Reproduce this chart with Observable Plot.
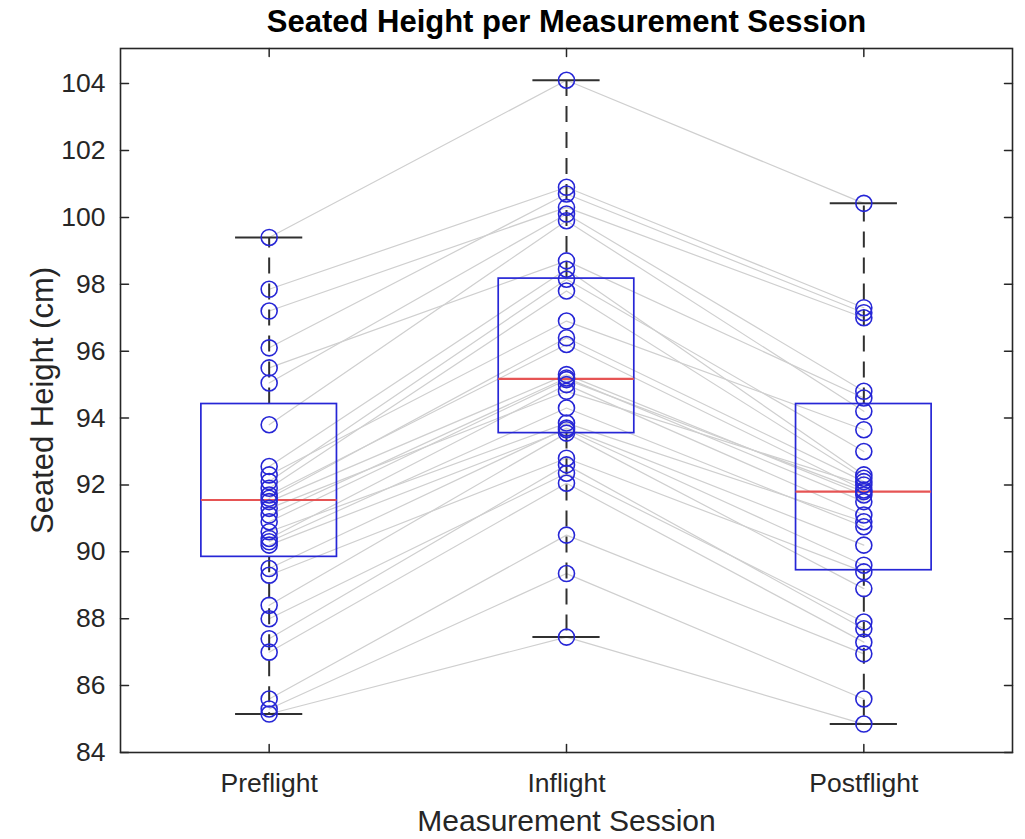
<!DOCTYPE html>
<html><head><meta charset="utf-8">
<script src="https://cdn.jsdelivr.net/npm/d3@7"></script>
<script src="https://cdn.jsdelivr.net/npm/@observablehq/plot@0.6"></script>
<style>body{margin:0;background:#fff;}</style>
</head><body><div id="chart"></div>
<script>
// ---- data ----
const sessions = ["Preflight", "Inflight", "Postflight"];
const preflight  = [99.4, 97.85, 97.2, 96.1, 95.5, 95.05, 93.8, 92.55, 92.3, 92.1, 91.9, 91.7, 91.6, 91.5, 91.3, 91.1, 90.9, 90.6, 90.4, 90.3, 90.2, 89.5, 89.3, 88.4, 88.0, 87.4, 87.0, 85.6, 85.3, 85.15];
const inflight   = [104.1, 100.9, 100.3, 100.7, 98.7, 100.1, 99.9, 98.45, 96.9, 98.15, 97.8, 96.2, 96.4, 95.3, 94.8, 95.2, 95.15, 93.85, 95.0, 94.3, 93.65, 93.7, 92.8, 93.55, 92.35, 92.6, 92.05, 90.5, 89.35, 87.45];
const postflight = [100.42, 97.3, 97.0, 97.15, 94.6, 94.8, 94.2, 92.3, 93.65, 93.0, 92.2, 91.85, 92.1, 91.7, 92.0, 91.5, 91.8, 90.9, 91.1, 90.75, 89.6, 90.2, 89.4, 88.9, 87.9, 87.7, 87.3, 86.95, 85.6, 84.85];
// box statistics per session
const boxQ1     = [89.85, 93.55, 89.45];
const boxMedian = [91.55, 95.17, 91.8];
const boxQ3     = [94.42, 98.17, 94.42];
const whiskerLo = [85.15, 87.45, 84.85];
const whiskerHi = [99.4, 104.1, 100.42];
const yTicks = [84, 86, 88, 90, 92, 94, 96, 98, 100, 102, 104];

// ---- build tables ----
const rows = [];
preflight.forEach((v, i) => {
  rows.push({subject: i, session: 1, value: v});
  rows.push({subject: i, session: 2, value: inflight[i]});
  rows.push({subject: i, session: 3, value: postflight[i]});
});
const boxes = sessions.map((s, i) => ({x: i + 1, q1: boxQ1[i], med: boxMedian[i], q3: boxQ3[i], lo: whiskerLo[i], hi: whiskerHi[i]}));

const BOX = 0.228, CAP = 0.113;
const tickShape = {draw(context, l) { context.moveTo(0, 0); context.lineTo(0, -l); }};
const axisColor = "#262626";
const blue = "#2626d6";

const chart = Plot.plot({
  width: 1025,
  height: 839,
  marginLeft: 120,
  marginRight: 13,
  marginTop: 48,
  marginBottom: 87,
  style: {fontFamily: "'Liberation Sans', Arial, Helvetica, sans-serif", fontSize: "26px", color: axisColor, background: "#fff"},
  x: {domain: [0.5, 3.5], axis: null},
  y: {domain: [84, 105.05], axis: null},
  marks: [
    Plot.line(rows, {x: "session", y: "value", z: "subject", stroke: "#cfcfcf", strokeWidth: 1.2}),
    Plot.ruleX(boxes, {x: "x", y1: "q3", y2: "hi", stroke: "#303030", strokeWidth: 2, strokeDasharray: "16,10"}),
    Plot.ruleX(boxes, {x: "x", y1: "q1", y2: "lo", stroke: "#303030", strokeWidth: 2, strokeDasharray: "16,10"}),
    Plot.ruleY(boxes, {y: "hi", x1: d => d.x - CAP, x2: d => d.x + CAP, stroke: "#303030", strokeWidth: 2}),
    Plot.ruleY(boxes, {y: "lo", x1: d => d.x - CAP, x2: d => d.x + CAP, stroke: "#303030", strokeWidth: 2}),
    Plot.rect(boxes, {x1: d => d.x - BOX, x2: d => d.x + BOX, y1: "q1", y2: "q3", fill: "none", stroke: blue, strokeWidth: 1.7}),
    Plot.ruleY(boxes, {y: "med", x1: d => d.x - BOX, x2: d => d.x + BOX, stroke: "#e65454", strokeWidth: 2.2}),
    Plot.dot(rows, {x: "session", y: "value", r: 8, fill: "none", stroke: blue, strokeWidth: 1.6}),
    Plot.frame({stroke: axisColor, strokeWidth: 1.6}),
    // inward ticks on all four sides
    Plot.vector(yTicks, {y: d => d, frameAnchor: "left", rotate: 90, length: 8, anchor: "start", shape: tickShape, stroke: axisColor, strokeWidth: 1.5}),
    Plot.vector(yTicks, {y: d => d, frameAnchor: "right", rotate: -90, length: 8, anchor: "start", shape: tickShape, stroke: axisColor, strokeWidth: 1.5}),
    Plot.vector([1, 2, 3], {x: d => d, frameAnchor: "bottom", rotate: 0, length: 8, anchor: "start", shape: tickShape, stroke: axisColor, strokeWidth: 1.5}),
    Plot.vector([1, 2, 3], {x: d => d, frameAnchor: "top", rotate: 180, length: 8, anchor: "start", shape: tickShape, stroke: axisColor, strokeWidth: 1.5}),
    Plot.axisY(yTicks, {tickSize: 0, tickPadding: 15, fontSize: 26.5, label: null, fill: axisColor}),
    Plot.axisX([1, 2, 3], {tickSize: 0, tickPadding: 21, fontSize: 26.5, label: null, tickFormat: d => sessions[d - 1], fill: axisColor}),
    Plot.text(["Seated Height (cm)"], {frameAnchor: "left", dx: -77, rotate: -90, textAnchor: "middle", lineAnchor: "middle", fontSize: 31, fill: axisColor}),
    Plot.text(["Measurement Session"], {frameAnchor: "bottom", dy: 69, textAnchor: "middle", lineAnchor: "middle", fontSize: 30, fill: axisColor}),
    Plot.text(["Seated Height per Measurement Session"], {frameAnchor: "top", dy: -26, textAnchor: "middle", lineAnchor: "middle", fontSize: 31, fontWeight: "bold", fill: "#000"})
  ]
});
document.getElementById("chart").appendChild(chart);
</script>
</body></html>
